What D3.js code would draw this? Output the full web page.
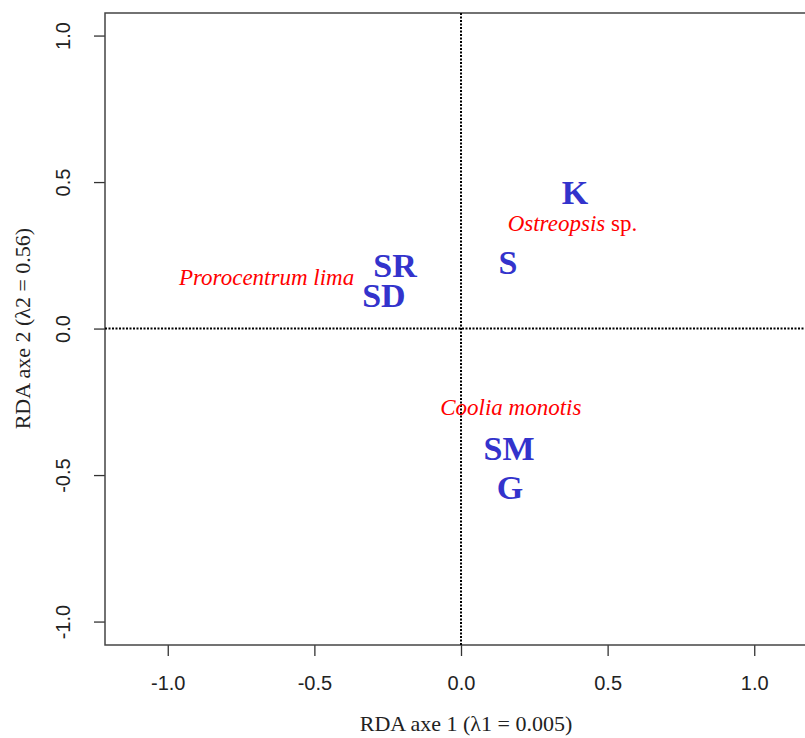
<!DOCTYPE html>
<html>
<head>
<meta charset="utf-8">
<script src="https://cdn.jsdelivr.net/npm/d3@7"></script>
<style>
  html, body { margin: 0; padding: 0; background: #fff; }
  svg { display: block; }
</style>
</head>
<body>
<svg id="chart" width="805" height="738"></svg>
<script>
// Site scores (blue)
const siteNames = ["K", "S", "SR", "SD", "SM", "G"];
const siteX = [0.389, 0.160, -0.225, -0.263, 0.164, 0.167];
const siteY = [0.467, 0.228, 0.217, 0.115, -0.407, -0.540];

// Species scores (red)
const speciesNames = ["Ostreopsis", "Prorocentrum lima", "Coolia monotis"];
const speciesSuffix = [" sp.", "", ""];
const speciesX = [0.380, -0.663, 0.170];
const speciesY = [0.360, 0.176, -0.267];

const xTicks = [-1.0, -0.5, 0.0, 0.5, 1.0];
const yTicks = [-1.0, -0.5, 0.0, 0.5, 1.0];
const xTitle = "RDA axe 1 (\u03BB1 = 0.005)";
const yTitle = "RDA axe 2 (\u03BB2 = 0.56)";

const svg = d3.select("#chart");
const plot = { left: 105, right: 817, top: 13, bottom: 645 };

const x = d3.scaleLinear().domain([-1.214, 1.214]).range([plot.left, plot.right]);
const y = d3.scaleLinear().domain([-1.08, 1.077]).range([plot.bottom, plot.top]);

const fmt = v => d3.format(".1f")(v).replace("\u2212", "-");

// Axes
const xAxis = d3.axisBottom(x).tickValues(xTicks).tickFormat(fmt).tickSize(11).tickSizeOuter(0);
const gx = svg.append("g").attr("transform", `translate(0,${plot.bottom})`).call(xAxis);
gx.select(".domain").remove();
gx.selectAll(".tick line").attr("stroke", "#333").attr("stroke-width", 1.3);
gx.selectAll(".tick text")
  .attr("font-family", "Liberation Sans, Arial, sans-serif")
  .attr("font-size", 20).attr("fill", "#222")
  .attr("y", 31).attr("dy", "0.71em");

const yAxis = d3.axisLeft(y).tickValues(yTicks).tickFormat(fmt).tickSize(11).tickSizeOuter(0);
const gy = svg.append("g").attr("transform", `translate(${plot.left},0)`).call(yAxis);
gy.select(".domain").remove();
gy.selectAll(".tick line").attr("stroke", "#333").attr("stroke-width", 1.3);
gy.selectAll(".tick text")
  .attr("font-family", "Liberation Sans, Arial, sans-serif")
  .attr("font-size", 20).attr("fill", "#222")
  .attr("x", null).attr("dy", null)
  .attr("text-anchor", "middle")
  .attr("transform", "translate(-35,0) rotate(-90)")
  .attr("y", 0);

// Plot box
svg.append("rect")
  .attr("x", plot.left).attr("y", plot.top)
  .attr("width", plot.right - plot.left).attr("height", plot.bottom - plot.top)
  .attr("fill", "none").attr("stroke", "#444").attr("stroke-width", 1.5);

// Dotted zero lines
svg.append("line")
  .attr("x1", x(0)).attr("x2", x(0)).attr("y1", plot.top).attr("y2", plot.bottom)
  .attr("stroke", "#000").attr("stroke-width", 2).attr("stroke-dasharray", "2,1.5");
svg.append("line")
  .attr("x1", plot.left).attr("x2", plot.right).attr("y1", y(0)).attr("y2", y(0))
  .attr("stroke", "#000").attr("stroke-width", 2).attr("stroke-dasharray", "2,1.5");

// Axis titles
svg.append("text")
  .attr("x", 466).attr("y", 731)
  .attr("text-anchor", "middle")
  .attr("font-family", "Liberation Serif, Times New Roman, serif")
  .attr("font-size", 22).attr("fill", "#222")
  .text(xTitle);
svg.append("text")
  .attr("transform", `translate(30,${y(0)}) rotate(-90)`)
  .attr("text-anchor", "middle")
  .attr("font-family", "Liberation Serif, Times New Roman, serif")
  .attr("font-size", 22).attr("fill", "#222")
  .text(yTitle);

// Species labels (red italic)
const sp = svg.append("g").selectAll("text")
  .data(speciesNames.map((n, i) => ({ name: n, suffix: speciesSuffix[i], x: speciesX[i], y: speciesY[i] })))
  .join("text")
  .attr("x", d => x(d.x)).attr("y", d => y(d.y)).attr("dy", "0.35em")
  .attr("text-anchor", "middle")
  .attr("font-family", "Liberation Serif, Times New Roman, serif")
  .attr("font-size", 23).attr("fill", "#ff0000");
sp.append("tspan").attr("font-style", "italic").text(d => d.name);
sp.append("tspan").text(d => d.suffix);

// Site labels (blue bold)
svg.append("g").selectAll("text")
  .data(siteNames.map((n, i) => ({ name: n, x: siteX[i], y: siteY[i] })))
  .join("text")
  .attr("x", d => x(d.x)).attr("y", d => y(d.y)).attr("dy", "0.35em")
  .attr("text-anchor", "middle")
  .attr("font-family", "Liberation Serif, Times New Roman, serif")
  .attr("font-weight", "bold")
  .attr("font-size", 34).attr("fill", "#3333cc")
  .text(d => d.name);
</script>
</body>
</html>
